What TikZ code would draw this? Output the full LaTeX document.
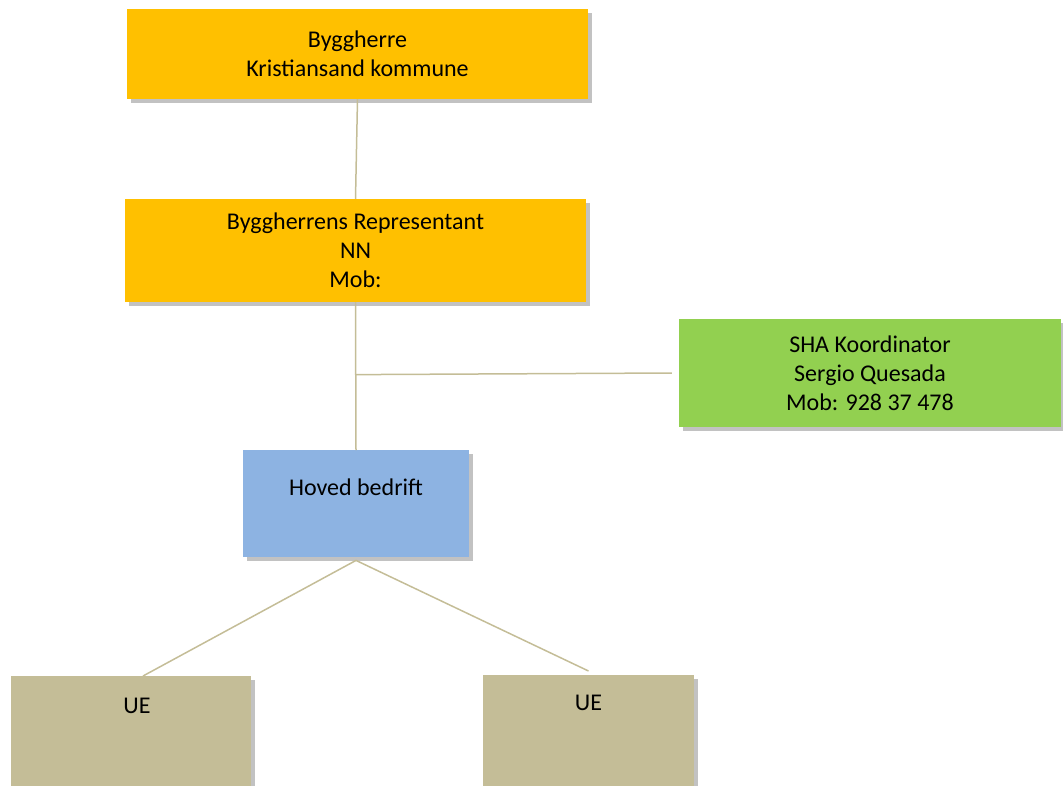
\documentclass[tikz,border=0pt]{standalone}
\usepackage{fontspec}
\setmainfont{Carlito}
\usepackage{tikz}
\usetikzlibrary{calc,shadows,positioning}
\definecolor{gul}{HTML}{FFC000}
\definecolor{gronn}{HTML}{92D050}
\definecolor{blaa}{HTML}{8DB3E2}
\definecolor{brun}{HTML}{C4BD97}
\begin{document}
\begin{tikzpicture}[x=1pt,y=1pt,
  boks/.style={rectangle, inner sep=0pt, align=center,
    font=\fontsize{24}{29}\selectfont,
    drop shadow={shadow xshift=4pt, shadow yshift=-4pt, fill=black!40, opacity=.6}},
  linje/.style={draw=brun, line width=1.5pt}]
  \useasboundingbox (0,0) rectangle (1063,-785);
  \node[boks, fill=gul, minimum width=461pt, minimum height=90pt]
    (bh) at (357.5,-54) {Byggherre\\Kristiansand kommune};
  \node[boks, fill=gul, minimum width=461pt, minimum height=103pt]
    (rep) at (355.5,-250.5) {Byggherrens Representant\\NN\\Mob:};
  \node[boks, fill=gronn, minimum width=382pt, minimum height=108pt]
    (sha) at (870,-373) {SHA Koordinator\\Sergio Quesada\\Mob: 928 37 478};
  \node[boks, fill=blaa, minimum width=226pt, text height=45pt, text depth=62pt, anchor=north]
    (hb) at (356,-450) {Hoved bedrift};
  \node[boks, fill=brun, minimum width=240pt, text height=37pt, text depth=80pt, anchor=north]
    (ue1) at (131,-676) {\hspace*{12pt}UE};
  \node[boks, fill=brun, minimum width=211pt, text height=35pt, text depth=80pt, anchor=north]
    (ue2) at (588.5,-675) {UE};
  \coordinate (kryss) at ($(rep.south)!0.49!(hb.north)$);
  \draw[linje] (bh.south)--(rep.north);
  \draw[linje] (rep.south)--(hb.north);
  \draw[linje] (kryss)--([xshift=-7pt]sha.west);
  \draw[linje] ([yshift=-3pt]hb.south)--([xshift=12pt]ue1.north);
  \draw[linje] ([yshift=-3pt]hb.south)--([yshift=4pt]ue2.north);
\end{tikzpicture}
\end{document}
